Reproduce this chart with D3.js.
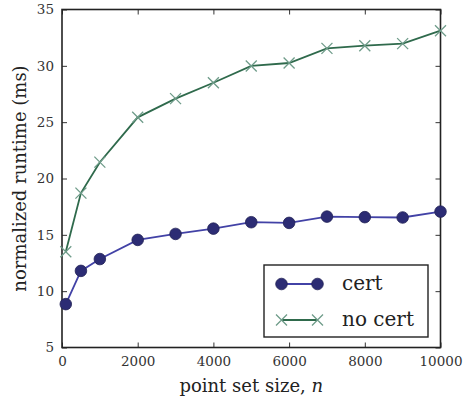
<!DOCTYPE html>
<html>
<head>
<meta charset="utf-8">
<script src="https://cdn.jsdelivr.net/npm/d3@7"></script>
<style>
  body { margin: 0; background: #fff; }
</style>
</head>
<body>
<div id="chart"></div>
<script>
// Data
const sizes = [100, 500, 1000, 2000, 3000, 4000, 5000, 6000, 7000, 8000, 9000, 10000];
const cert = [8.85, 11.8, 12.85, 14.55, 15.08, 15.55, 16.12, 16.06, 16.62, 16.57, 16.54, 17.06];
const noCert = [13.5, 18.7, 21.45, 25.43, 27.09, 28.5, 29.99, 30.25, 31.55, 31.79, 31.97, 33.12];
const xTicks = [0, 2000, 4000, 6000, 8000, 10000];
const yTicks = [5, 10, 15, 20, 25, 30, 35];
const seriesNames = ["cert", "no cert"];

const FONT = "'DejaVu Serif', serif";

const W = 466, H = 400;
const margin = { top: 9.5, right: 25.5, bottom: 52.5, left: 62 };
const width = W - margin.left - margin.right,
  height = H - margin.top - margin.bottom;

const svg = d3.select("#chart").append("svg")
  .attr("width", W).attr("height", H);
const g = svg.append("g")
  .attr("transform", `translate(${margin.left},${margin.top})`);

const x = d3.scaleLinear().domain([0, 10000]).range([0, width]);
const y = d3.scaleLinear().domain([5, 35]).range([height, 0]);

const certColor = "#4242a6", certMarker = "#2c2c74";
const noCertColor = "#2f6a4c", noCertMarker = "#6f9c8a";

// inward ticks on all four sides
const tickLen = 5;
g.append("g").attr("transform", `translate(0,${height})`)
  .call(d3.axisBottom(x).tickValues(xTicks).tickSize(-tickLen).tickPadding(9).tickFormat(d3.format("d")));
g.append("g")
  .call(d3.axisTop(x).tickValues(xTicks).tickSize(-tickLen).tickFormat(""));
g.append("g")
  .call(d3.axisLeft(y).tickValues(yTicks).tickSize(-tickLen).tickPadding(8));
g.append("g").attr("transform", `translate(${width},0)`)
  .call(d3.axisRight(y).tickValues(yTicks).tickSize(-tickLen).tickFormat(""));

g.selectAll(".domain").remove();
g.selectAll(".tick line").attr("stroke", "#333").attr("stroke-width", 1);
g.selectAll(".tick text")
  .style("font-family", FONT).style("font-size", "13.5px").attr("fill", "#333");

g.append("rect")
  .attr("width", width).attr("height", height)
  .attr("fill", "none").attr("stroke", "#222").attr("stroke-width", 1.6);

const line = d3.line().x((d) => x(d[0])).y((d) => y(d[1]));

// no cert
const ncData = sizes.map((s, i) => [s, noCert[i]]);
g.append("path").datum(ncData)
  .attr("fill", "none").attr("stroke", noCertColor).attr("stroke-width", 1.8)
  .attr("d", line);
const crossSize = 5.5;
const drawCross = (sel, cx, cy) => {
  sel.append("path")
    .attr("d", `M${cx - crossSize},${cy - crossSize}L${cx + crossSize},${cy + crossSize}M${cx - crossSize},${cy + crossSize}L${cx + crossSize},${cy - crossSize}`)
    .attr("stroke", noCertMarker).attr("stroke-width", 1.3).attr("fill", "none");
};
ncData.forEach((d) => drawCross(g, x(d[0]), y(d[1])));

// cert
const cData = sizes.map((s, i) => [s, cert[i]]);
g.append("path").datum(cData)
  .attr("fill", "none").attr("stroke", certColor).attr("stroke-width", 1.8)
  .attr("d", line);
g.selectAll("circle.cert").data(cData).enter().append("circle")
  .attr("class", "cert")
  .attr("cx", (d) => x(d[0])).attr("cy", (d) => y(d[1]))
  .attr("r", 5.8)
  .attr("fill", certMarker).attr("stroke", "#222255").attr("stroke-width", 0.8);

// legend
const lg = svg.append("g");
lg.append("rect")
  .attr("x", 264).attr("y", 265).attr("width", 164).attr("height", 72)
  .attr("fill", "#fff").attr("stroke", "#222").attr("stroke-width", 1.4);
const rows = [284, 320];
const lx0 = 281.5, lx1 = 317.5;
lg.append("line").attr("x1", lx0).attr("x2", lx1).attr("y1", rows[0]).attr("y2", rows[0])
  .attr("stroke", certColor).attr("stroke-width", 1.8);
[lx0, lx1].forEach((cx) => lg.append("circle").attr("cx", cx).attr("cy", rows[0]).attr("r", 5.8)
  .attr("fill", certMarker).attr("stroke", "#222255").attr("stroke-width", 0.8));
lg.append("line").attr("x1", lx0).attr("x2", lx1).attr("y1", rows[1]).attr("y2", rows[1])
  .attr("stroke", noCertColor).attr("stroke-width", 1.8);
[lx0, lx1].forEach((cx) => drawCross(lg, cx, rows[1]));
seriesNames.forEach((name, i) => {
  lg.append("text").attr("x", 342).attr("y", rows[i] + 6)
    .style("font-family", FONT).style("font-size", "20px").attr("fill", "#222").text(name);
});

// axis labels
const xl = svg.append("text")
  .attr("x", margin.left + width / 2).attr("y", 392)
  .attr("text-anchor", "middle")
  .style("font-family", FONT).style("font-size", "18px").attr("fill", "#222");
xl.append("tspan").text("point set size, ");
xl.append("tspan").style("font-style", "italic").text("n");

svg.append("text")
  .attr("transform", `translate(26,${margin.top + height / 2}) rotate(-90)`)
  .attr("text-anchor", "middle")
  .style("font-family", FONT).style("font-size", "18px").attr("fill", "#222")
  .text("normalized runtime (ms)");
</script>
</body>
</html>
